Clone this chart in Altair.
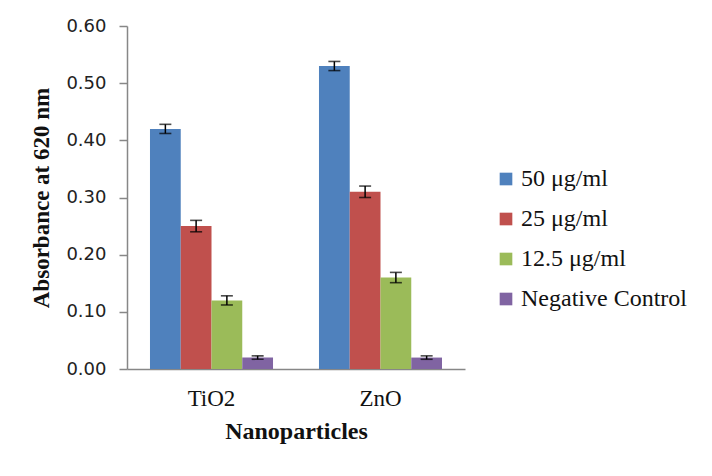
import altair as alt
import pandas as pd

categories = ["TiO2", "ZnO"]
series = ["50 μg/ml", "25 μg/ml", "12.5 μg/ml", "Negative Control"]
values_tio2 = [0.42, 0.25, 0.12, 0.02]
values_zno = [0.53, 0.31, 0.16, 0.02]
errors_tio2 = [0.008, 0.010, 0.008, 0.003]
errors_zno = [0.008, 0.010, 0.009, 0.003]
colors = ["#4F81BD", "#C0504D", "#9BBB59", "#8064A2"]
y_ticks = [0.0, 0.1, 0.2, 0.3, 0.4, 0.5, 0.6]

rows = []
for cat, vals, errs in zip(categories, [values_tio2, values_zno], [errors_tio2, errors_zno]):
    for s, v, e in zip(series, vals, errs):
        rows.append({"np": cat, "conc": s, "abs": v, "lo": v - e, "hi": v + e})
df = pd.DataFrame(rows)

SERIF = "Liberation Serif"
SANS = "DejaVu Sans"
AXIS_GRAY = "#878787"
Y_TITLE = "Absorbance at 620 nm"

x = alt.X(
    "np:N",
    sort=categories,
    scale=alt.Scale(paddingInner=0.272, paddingOuter=0.136),
    axis=alt.Axis(
        title="Nanoparticles",
        labelAngle=0,
        ticks=False,
        tickSize=0,
        labelPadding=18,
        labelFont=SERIF,
        labelFontSize=23,
        labelColor="#111",
        titleFont=SERIF,
        titleFontSize=24,
        titleFontWeight="bold",
        titleColor="#111",
        titlePadding=9,
        domainColor=AXIS_GRAY,
        domainWidth=1.5,
    ),
)
xoff = alt.XOffset(
    "conc:N",
    sort=series,
    scale=alt.Scale(domain=series, paddingInner=0, paddingOuter=0),
)

yscale = alt.Scale(domain=[0, 0.6], nice=False, zero=True)

yaxis = alt.Axis(
    title=Y_TITLE,
    values=y_ticks,
    format=".2f",
    grid=False,
    tickSize=8,
    tickColor=AXIS_GRAY,
    tickWidth=1.5,
    domainColor=AXIS_GRAY,
    domainWidth=1.5,
    labelPadding=13,
    labelFont=SANS,
    labelFontSize=18,
    labelColor="#222",
    titleFont=SERIF,
    titleFontSize=23,
    titleFontWeight="bold",
    titleColor="#111",
    titlePadding=12,
)

base = alt.Chart(df).encode(x=x, xOffset=xoff)

bars = base.mark_bar().encode(
    y=alt.Y("abs:Q", scale=yscale, axis=yaxis, title=Y_TITLE),
    color=alt.Color(
        "conc:N",
        sort=series,
        scale=alt.Scale(domain=series, range=colors),
        legend=alt.Legend(
            title=None,
            orient="none",
            legendX=367,
            legendY=141,
            symbolType="square",
            symbolSize=160,
            symbolStrokeWidth=0,
            labelFont=SERIF,
            labelFontSize=24,
            labelColor="#111",
            labelOffset=3,
            labelLimit=300,
            rowPadding=16,
            padding=0,
        ),
    ),
)

rules = base.mark_rule(color="black", strokeWidth=1.5).encode(
    y=alt.Y("lo:Q", scale=yscale, axis=yaxis, title=Y_TITLE),
    y2="hi:Q",
)
caps_lo = base.mark_tick(color="black", thickness=1.6, size=12).encode(
    y=alt.Y("lo:Q", scale=yscale, axis=yaxis, title=Y_TITLE)
)
caps_hi = base.mark_tick(color="black", thickness=1.6, size=12).encode(
    y=alt.Y("hi:Q", scale=yscale, axis=yaxis, title=Y_TITLE)
)

chart = (
    alt.layer(bars, rules, caps_lo, caps_hi)
    .properties(
        width=338,
        height=343,
        padding={"left": 22, "top": 9, "right": 5, "bottom": 5},
        background="white",
    )
    .configure_view(stroke=None)
)

chart.save("out.html", embed_options={"renderer": "svg", "actions": False})
